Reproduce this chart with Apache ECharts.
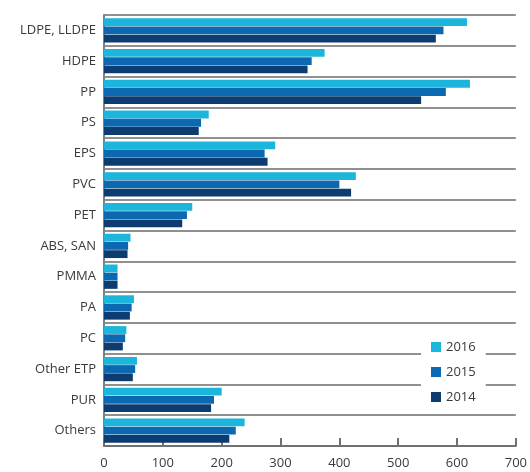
<!DOCTYPE html>
<html>
<head>
<meta charset="utf-8">
<script src="https://cdn.jsdelivr.net/npm/echarts@6/dist/echarts.min.js"></script>
<style>
html,body{margin:0;padding:0;background:#fff;}
#chart{width:530px;height:472px;}
</style>
</head>
<body>
<div id="chart"></div>
<script>
const categories = ['LDPE, LLDPE','HDPE','PP','PS','EPS','PVC','PET','ABS, SAN','PMMA','PA','PC','Other ETP','PUR','Others'];
const values2016 = [617,375,622,178,291,428,150,45,23,51,38,56,200,239];
const values2015 = [577,353,581,165,273,400,141,41,23,47,36,53,187,224];
const values2014 = [564,346,539,161,278,420,133,40,23,44,32,49,182,213];
const xTicks = [0,100,200,300,400,500,600,700];

const colors = {'2016':'#1cb5dc','2015':'#0c68b0','2014':'#0d3c70'};
const font = '"Open Sans", "Noto Sans", sans-serif';

const chart = echarts.init(document.getElementById('chart'));
chart.setOption({
  animation:false,
  backgroundColor:'#fff',
  grid:{left:104,right:9,top:15,bottom:26,containLabel:false},
  legend:{
    data:['2016','2015','2014'],
    orient:'vertical',
    left:421, top:334,
    backgroundColor:'#fff',
    padding:[6,10,6,10],
    itemWidth:10,itemHeight:10,itemGap:11,
    icon:'rect',
    textStyle:{fontFamily:font,fontSize:13,color:'#3a3a3a',lineHeight:14}
  },
  xAxis:{
    type:'value',min:xTicks[0],max:xTicks[xTicks.length-1],interval:100,
    axisLine:{show:true,lineStyle:{color:'#707070',width:2}},
    axisTick:{show:true,inside:true,length:8,lineStyle:{color:'#707070',width:2}},
    splitLine:{show:false},
    axisLabel:{fontFamily:font,fontSize:13,color:'#3a3a3a',margin:11,
      formatter:function(v){return xTicks.indexOf(v)>=0?String(v):'';}}
  },
  yAxis:{
    type:'category',data:categories,inverse:true,
    axisLine:{show:true,lineStyle:{color:'#808080',width:2}},
    axisTick:{show:false},
    splitLine:{show:true,lineStyle:{color:'#909090',width:2}},
    axisLabel:{fontFamily:font,fontSize:13,color:'#3a3a3a',margin:8}
  },
  series:[
    {name:'2016',type:'bar',data:values2016,itemStyle:{color:colors['2016']},barGap:'5%',barCategoryGap:'21%'},
    {name:'2015',type:'bar',data:values2015,itemStyle:{color:colors['2015']},barGap:'5%',barCategoryGap:'21%'},
    {name:'2014',type:'bar',data:values2014,itemStyle:{color:colors['2014']},barGap:'5%',barCategoryGap:'21%'}
  ]
});
</script>
</body>
</html>
